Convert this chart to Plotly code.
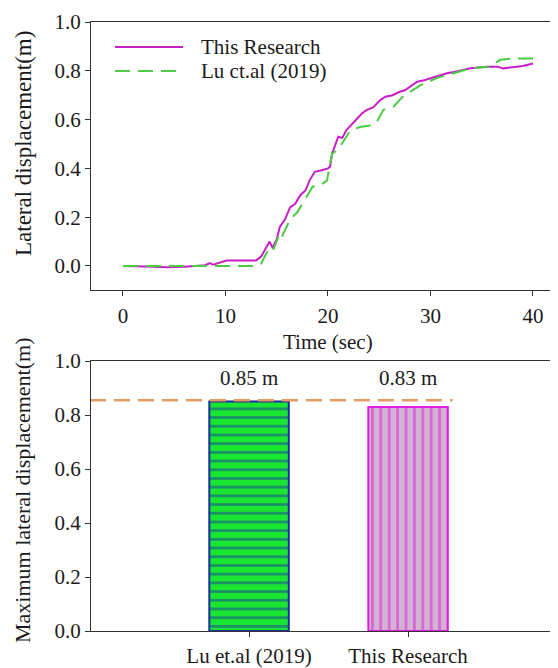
import plotly.graph_objects as go

# ---- data ----
t_this = [0, 1.5, 3, 4.3, 6, 8, 8.5, 8.8, 9.5, 10.1, 11, 12, 13, 13.5, 14.3, 14.6, 15.0, 15.3,
          15.8, 16.3, 16.8, 17.3, 17.8, 18.2, 18.7, 19.2, 20.0, 20.2, 20.4, 21.0, 21.4, 21.8,
          22.3, 22.8, 23.3, 23.8, 24.4, 25.1, 25.6, 26.3, 27.0, 27.5, 28.0, 28.7, 29.3, 30.0,
          30.8, 31.6, 32.3, 32.9, 33.9, 35.5, 36.5, 37.1, 38.0, 39.0, 40.0]
v_this = [0.0, 0.0, -0.003, -0.005, -0.003, 0.003, 0.012, 0.005, 0.015, 0.022, 0.022, 0.022,
          0.023, 0.04, 0.10, 0.075, 0.11, 0.16, 0.19, 0.24, 0.255, 0.29, 0.31, 0.35, 0.386,
          0.39, 0.40, 0.407, 0.46, 0.53, 0.525, 0.557, 0.58, 0.60, 0.625, 0.64, 0.65, 0.68,
          0.694, 0.70, 0.714, 0.72, 0.735, 0.755, 0.76, 0.77, 0.78, 0.79, 0.795, 0.80, 0.81,
          0.817, 0.817, 0.81, 0.815, 0.82, 0.83]

t_lu = [0, 2, 4, 6, 8, 10, 12, 13, 13.5, 14.3, 14.7, 15.3, 15.5, 16.3, 17.0, 17.6, 18.5, 19.2,
        19.9, 20.4, 20.9, 21.5, 22.1, 23.1, 24.0, 24.7, 25.4, 26.4, 27.2, 28.0, 29.0, 30.6,
        32.6, 33.9, 35.8, 36.8, 37.8, 40.0]
v_lu = [0.0, 0.0, 0.0, 0.0, 0.0, 0.0, 0.0, 0.0, 0.01, 0.08, 0.07, 0.135, 0.12, 0.19, 0.22,
        0.26, 0.325, 0.33, 0.35, 0.46, 0.475, 0.51, 0.55, 0.57, 0.575, 0.585, 0.64, 0.653,
        0.69, 0.714, 0.74, 0.77, 0.796, 0.81, 0.817, 0.845, 0.85, 0.85]

bar_categories = ["Lu et.al (2019)", "This Research"]
bar_values = [0.85, 0.83]

series_names = ["This Research", "Lu ct.al (2019)"]
time_ticks = [0, 10, 20, 30, 40]
disp_ticks = [0.0, 0.2, 0.4, 0.6, 0.8, 1.0]

# ---- style ----
FONT = "Liberation Serif"
FS = 21
MAGENTA = "#C81EC8"
GREEN = "#4CCB45"
AX = "#333333"
TXT = "#1a1a1a"
OFF = 8                 # page body margin of the html page
W, H = 558 - OFF, 668 - OFF


def px_x(x):
    return (x - OFF) / W


def px_y(y):
    return 1 - (y - OFF) / H


fig = go.Figure()

fig.add_trace(go.Scatter(x=t_this, y=v_this, mode="lines", name=series_names[0],
                         showlegend=False,
                         line=dict(color=MAGENTA, width=2), xaxis="x", yaxis="y"))
fig.add_trace(go.Scatter(x=t_lu, y=v_lu, mode="lines", name=series_names[1],
                         showlegend=False,
                         line=dict(color=GREEN, width=2, dash="15px,8px"), xaxis="x", yaxis="y"))

bar_styles = [
    dict(bg="#1AE632", fg="#1A2FA0", shape="-", size=8.7, solidity=0.3),
    dict(bg="#D2B4D2", fg="#E01EE0", shape="|", size=8.4, solidity=0.35),
]
for cat, val, st in zip(bar_categories, bar_values, bar_styles):
    fig.add_trace(go.Bar(
        x=[cat], y=[val], xaxis="x2", yaxis="y2", width=0.5, showlegend=False,
        marker=dict(
            color=st["bg"],
            line=dict(color=st["fg"], width=2),
            pattern=dict(shape=st["shape"], fgcolor=st["fg"], bgcolor=st["bg"],
                         size=st["size"], solidity=st["solidity"], fillmode="overlay"),
        ),
    ))
    fig.add_annotation(x=cat, y=0.937, xref="x2", yref="y2", text=f"{val:.2f} m",
                       showarrow=False, font=dict(family=FONT, size=FS, color=TXT))

fig.add_shape(type="line", xref="x2", yref="y2", x0=-1, x1=1.28,
              y0=max(bar_values) + 0.005, y1=max(bar_values) + 0.005,
              line=dict(color="#E59A62", width=2.5, dash="16px,8px"))

# manual legend (longer line samples as in the reference)
leg_rows = [(47, MAGENTA, "solid"), (71, GREEN, "15px,8px")]
for (py, col, dash), name in zip(leg_rows, series_names):
    fig.add_shape(type="line", xref="paper", yref="paper",
                  x0=px_x(115), x1=px_x(183), y0=px_y(py), y1=px_y(py),
                  line=dict(color=col, width=2, dash=dash))
    fig.add_annotation(xref="paper", yref="paper", x=px_x(199), y=px_y(py),
                       xanchor="left", yanchor="middle", text=name, showarrow=False,
                       font=dict(family=FONT, size=FS, color=TXT))

# axis titles placed as in the reference
fig.add_annotation(xref="x", yref="paper", x=20, y=px_y(342), text="Time (sec)",
                   showarrow=False, xanchor="center", yanchor="middle",
                   font=dict(family=FONT, size=FS, color=TXT))
fig.add_annotation(xref="paper", yref="paper", x=px_x(23), y=px_y(144),
                   text="Lateral displacement(m)", textangle=-90, showarrow=False,
                   xanchor="center", yanchor="middle",
                   font=dict(family=FONT, size=23, color=TXT))
fig.add_annotation(xref="paper", yref="paper", x=px_x(22), y=px_y(491),
                   text="Maximum lateral displacement(m)", textangle=-90, showarrow=False,
                   xanchor="center", yanchor="middle",
                   font=dict(family=FONT, size=22, color=TXT))

common_axis = dict(showline=True, linecolor=AX, linewidth=1, ticks="outside", ticklen=5,
                   tickcolor=AX, showgrid=False, zeroline=False,
                   tickfont=dict(family=FONT, size=FS, color=TXT))

fig.update_layout(
    width=W, height=H,
    margin=dict(l=0, r=0, t=0, b=0, autoexpand=False),
    paper_bgcolor="white", plot_bgcolor="white",
    font=dict(family=FONT, size=FS, color=TXT),
    showlegend=False,
    xaxis=dict(domain=[px_x(91), 1.0], range=[-3.12, 42.44], tickvals=time_ticks, mirror=True,
               anchor="y", ticklabelstandoff=2, **common_axis),
    yaxis=dict(domain=[px_y(290), px_y(22)], range=[-0.0984, 1.0], tickvals=disp_ticks,
               tickformat=".1f", anchor="x", **common_axis),
    xaxis2=dict(domain=[px_x(91), 1.0], range=[-0.994, 1.943], type="category", mirror=True,
                anchor="y2", ticklabelstandoff=1, **common_axis),
    yaxis2=dict(domain=[px_y(631), px_y(361)], range=[0, 1.0], tickvals=disp_ticks,
                tickformat=".1f", anchor="x2", **common_axis),
)

fig.write_html("out.html")
